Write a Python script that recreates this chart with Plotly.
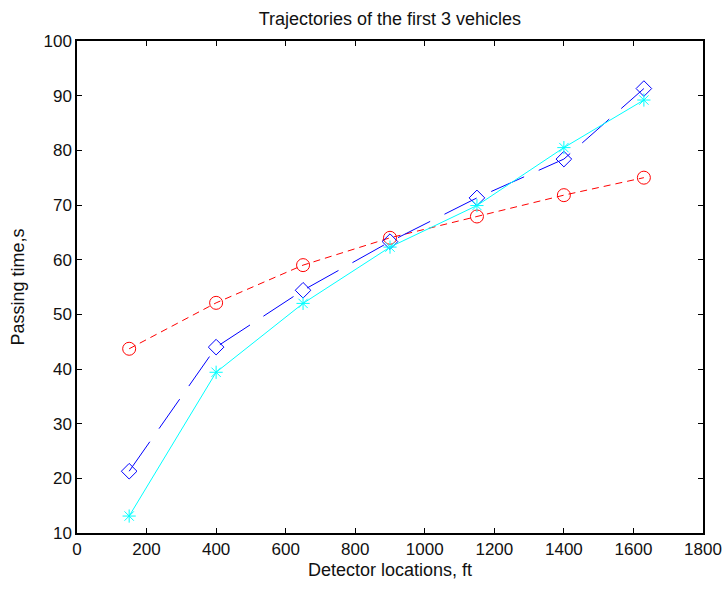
import plotly.graph_objects as go

locations = [150, 400, 650, 900, 1150, 1400, 1630]
vehicle1 = [43.7, 52.1, 59.0, 64.0, 67.9, 71.8, 75.0]
vehicle2 = [21.3, 44.0, 54.4, 63.3, 71.3, 78.4, 91.3]
vehicle3 = [13.1, 39.4, 52.0, 62.3, 69.9, 80.5, 89.2]
x_ticks = [0, 200, 400, 600, 800, 1000, 1200, 1400, 1600, 1800]
y_ticks = [10, 20, 30, 40, 50, 60, 70, 80, 90, 100]

FONT = "Liberation Sans, Arial"

fig = go.Figure()
fig.add_trace(go.Scatter(
    x=locations, y=vehicle1, mode="lines+markers",
    line=dict(color="#ff0000", width=1, dash="7px,5px"),
    marker=dict(symbol="circle-open", size=13, color="#ff0000", line=dict(width=1)),
))
fig.add_trace(go.Scatter(
    x=locations, y=vehicle2, mode="lines+markers",
    line=dict(color="#0000ff", width=1, dash="36px,16px"),
    marker=dict(symbol="diamond-open", size=12, color="#0000ff", line=dict(width=1)),
))
fig.add_trace(go.Scatter(
    x=locations, y=vehicle3, mode="lines+markers",
    line=dict(color="#00ffff", width=1),
    marker=dict(symbol="asterisk-open", size=11, color="#00ffff", line=dict(width=1, color="#00ffff")),
))

axis_common = dict(
    showgrid=False, zeroline=False, showline=True, linecolor="black", linewidth=1.5,
    mirror="ticks", ticks="inside", ticklen=5, tickcolor="black", tickwidth=1,
    automargin=False,
    tickfont=dict(family=FONT, size=17, color="#111111"),
)
fig.update_xaxes(range=[0, 1800], tickvals=x_ticks, ticktext=[str(v) for v in x_ticks],
                 title=dict(text="Detector locations, ft", font=dict(family=FONT, size=18, color="#111111"), standoff=5),
                 **axis_common)
fig.update_yaxes(range=[10, 100], tickvals=y_ticks, ticktext=[str(v) for v in y_ticks],
                 title=dict(text="Passing time,s", font=dict(family=FONT, size=18, color="#111111"), standoff=14),
                 **axis_common)
fig.update_layout(
    width=726, height=590,
    margin=dict(l=77, r=23, t=41, b=57, autoexpand=False),
    plot_bgcolor="white", paper_bgcolor="white",
    showlegend=False,
    title=dict(text="Trajectories of the first 3 vehicles", x=0.537, xanchor="center", y=0.969, yanchor="middle",
               font=dict(family=FONT, size=18, color="#111111")),
)
fig.write_html("out.html")
